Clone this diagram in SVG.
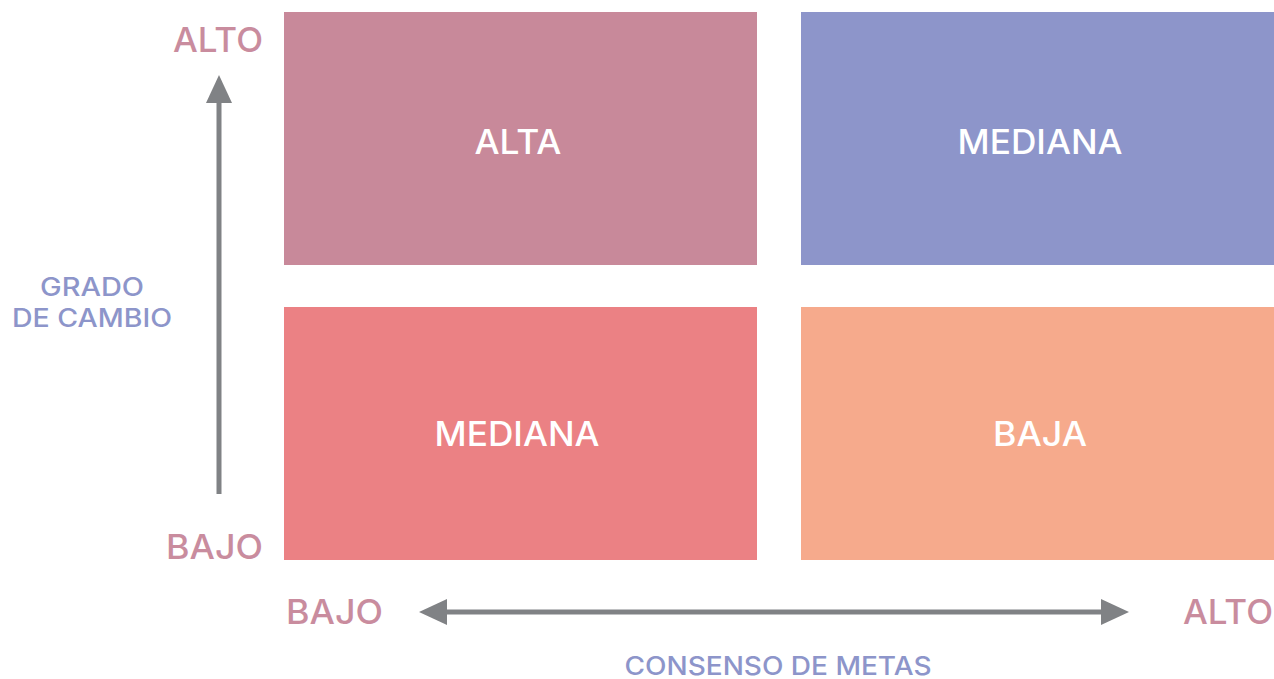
<svg xmlns="http://www.w3.org/2000/svg" width="1274" height="679" viewBox="0 0 1274 679">
<style>
text{font-family:Inter,"Open Sans","Liberation Sans",sans-serif;font-weight:500}
.box{font-size:34px;fill:#ffffff;text-anchor:middle}
.ax{font-size:34px;fill:#C98C9E}
.lab{font-size:25px;fill:#8D95CA;text-anchor:middle}
.arr{stroke:#808285;stroke-width:5;fill:none}
.head{fill:#808285}
</style>
<rect width="1274" height="679" fill="#ffffff"/>
<g id="q-alta"><rect x="284" y="12" width="473" height="253" fill="#C8899A"/><text class="box" x="518" y="154" textLength="87" lengthAdjust="spacingAndGlyphs">ALTA</text></g>
<g id="q-mediana-top"><rect x="801" y="12" width="473" height="253" fill="#8D95CA"/><text class="box" x="1040" y="154" textLength="165" lengthAdjust="spacingAndGlyphs">MEDIANA</text></g>
<g id="q-mediana-bottom"><rect x="284" y="307" width="473" height="253" fill="#EB8184"/><text class="box" x="517" y="446" textLength="165" lengthAdjust="spacingAndGlyphs">MEDIANA</text></g>
<g id="q-baja"><rect x="801" y="307" width="473" height="253" fill="#F6AA8C"/><text class="box" x="1040" y="446" textLength="94" lengthAdjust="spacingAndGlyphs">BAJA</text></g>
<g id="labels">
<text class="ax" x="263" y="52" text-anchor="end" textLength="90" lengthAdjust="spacingAndGlyphs">ALTO</text>
<text class="ax" x="263" y="559" text-anchor="end" textLength="97" lengthAdjust="spacingAndGlyphs">BAJO</text>
<text class="ax" x="286" y="624" textLength="97" lengthAdjust="spacingAndGlyphs">BAJO</text>
<text class="ax" x="1273" y="624" text-anchor="end" textLength="90" lengthAdjust="spacingAndGlyphs">ALTO</text>
<text class="lab" x="92" y="296" textLength="104" lengthAdjust="spacingAndGlyphs">GRADO</text>
<text class="lab" x="92" y="327" textLength="160" lengthAdjust="spacingAndGlyphs">DE CAMBIO</text>
<text class="lab" x="778" y="675" textLength="307" lengthAdjust="spacingAndGlyphs">CONSENSO DE METAS</text>
</g>
<g id="connectors">
<line class="arr" x1="219" y1="494" x2="219" y2="100"/>
<polygon class="head" points="219,75 206,103 232,103"/>
<line class="arr" x1="445" y1="612" x2="1103" y2="612"/>
<polygon class="head" points="419,612 447,599 447,625"/>
<polygon class="head" points="1129,612 1101,599 1101,625"/>
</g>
</svg>
